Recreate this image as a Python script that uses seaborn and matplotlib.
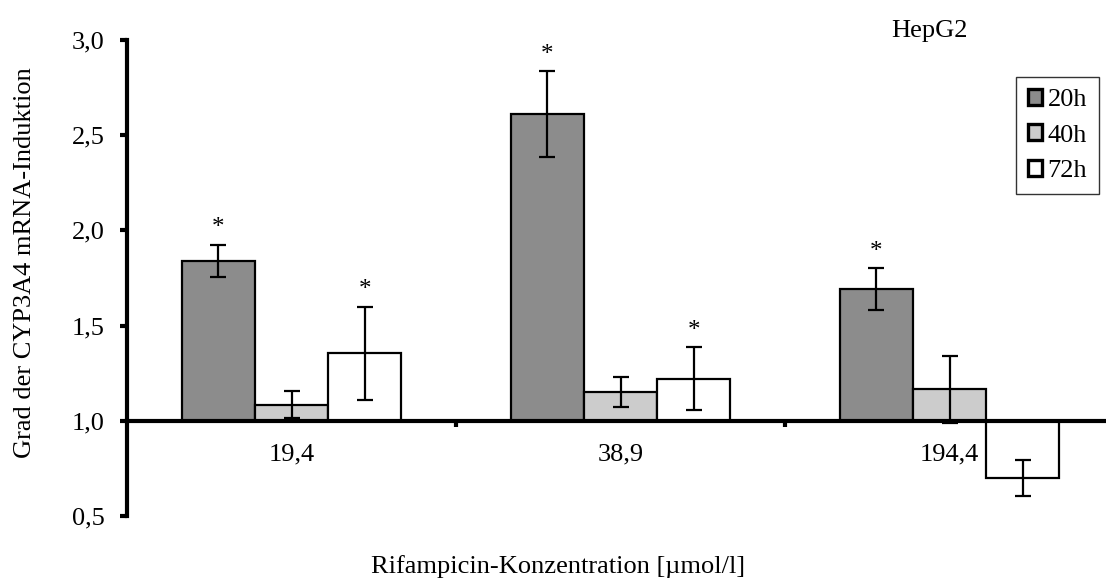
import matplotlib
matplotlib.use("Agg")
import matplotlib.pyplot as plt
from matplotlib.patches import Patch
import seaborn as sns
import pandas as pd
import numpy as np

concentrations = ["19,4", "38,9", "194,4"]
timepoints = ["20h", "40h", "72h"]
values_20h = [1.84, 2.61, 1.69]
values_40h = [1.085, 1.15, 1.165]
values_72h = [1.355, 1.22, 0.70]
err_20h = [0.085, 0.225, 0.11]
err_40h = [0.07, 0.08, 0.177]
err_72h = [0.245, 0.165, 0.093]
signif_20h = [True, True, True]
signif_40h = [False, False, False]
signif_72h = [True, True, False]
colors = ["#8c8c8c", "#cccccc", "#ffffff"]
baseline = 1.0

rows = []
for t, vals, errs, sig in zip(timepoints, [values_20h, values_40h, values_72h],
                              [err_20h, err_40h, err_72h],
                              [signif_20h, signif_40h, signif_72h]):
    for c, v, e, s in zip(concentrations, vals, errs, sig):
        rows.append({"conc": c, "time": t, "value": v, "err": e, "sig": s,
                     "rel": v - baseline})
df = pd.DataFrame(rows)

sns.set_style("white")
plt.rcParams["font.family"] = ["Liberation Serif", "DejaVu Serif"]
plt.rcParams.update({"text.color": "black", "axes.labelcolor": "black",
                     "xtick.color": "black", "ytick.color": "black",
                     "axes.edgecolor": "black"})

FS = 19

fig = plt.figure(figsize=(11.06, 5.83), dpi=100)
ax = fig.add_axes([127/1106, 1-516/583, (1114-127)/1106, (516-40)/583])

sns.barplot(data=df, x="conc", y="rel", hue="time", order=concentrations,
            hue_order=timepoints, palette=colors, width=0.667, bottom=baseline,
            edgecolor="black", linewidth=1.6, errorbar=None, ax=ax, legend=False,
            saturation=1)

# error bars & asterisks
patches = [p for p in ax.patches][:len(df)]
for p, (_, r) in zip(patches, df.iterrows()):
    xc = p.get_x() + p.get_width() / 2
    ax.errorbar(xc, r["value"], yerr=r["err"], fmt="none", ecolor="black",
                elinewidth=1.6, capsize=5.5, capthick=1.6, zorder=5)
    if r["sig"]:
        ax.text(xc, r["value"] + r["err"] + 0.03, "*", ha="center", va="bottom",
                fontsize=18)

ax.set_xlim(-0.5, 2.5)
ax.set_ylim(0.5, 3.0)
ax.set_yticks([0.5, 1.0, 1.5, 2.0, 2.5, 3.0])
ax.set_yticklabels(["0,5", "1,0", "1,5", "2,0", "2,5", "3,0"])
ax.set_xticks([0, 1, 2])
ax.set_xticklabels(concentrations)
ax.set_xticks([0.5, 1.5], minor=True)

for s in ["top", "right"]:
    ax.spines[s].set_visible(False)
ax.spines["left"].set_linewidth(3.0)
ax.spines["bottom"].set_linewidth(3.0)
ax.spines["left"].set_color("black")
ax.spines["bottom"].set_color("black")
ax.spines["bottom"].set_position(("data", baseline))
ax.spines["bottom"].set_zorder(6)

ax.tick_params(axis="y", direction="out", length=5, width=3.0, labelsize=FS, pad=11,
               left=True, color="black", labelcolor="black")
ax.tick_params(axis="x", which="major", length=0, labelsize=FS, pad=16, labelcolor="black")
ax.tick_params(axis="x", which="minor", direction="out", length=4, width=3.0,
               bottom=True, color="black")

ax.set_xlabel("Rifampicin-Konzentration [µmol/l]", fontsize=FS, va="center", color="black")
ax.set_ylabel("Grad der CYP3A4 mRNA-Induktion", fontsize=FS, va="center", color="black")
ax.xaxis.set_label_coords((558-127)/987, (516-567)/476)
ax.yaxis.set_label_coords((25-127)/987, (516-263)/476)

fig.text(929/1106, 1-31/583, "HepG2", ha="center", va="center", fontsize=FS, color="black")

handles = [Patch(facecolor=c, edgecolor="black", linewidth=2.4) for c in colors]
leg = ax.legend(handles, timepoints, loc="upper right",
                bbox_to_anchor=((1099-127)/987, (516-77)/476),
                frameon=True, fancybox=False, edgecolor="black", fontsize=FS,
                handlelength=0.55, handleheight=0.55, handletextpad=0.2,
                borderpad=0.45, labelspacing=0.5, borderaxespad=0)
leg.get_frame().set_linewidth(1.0)
for t in leg.get_texts():
    t.set_color("black")

fig.savefig("out.png", dpi=100)
